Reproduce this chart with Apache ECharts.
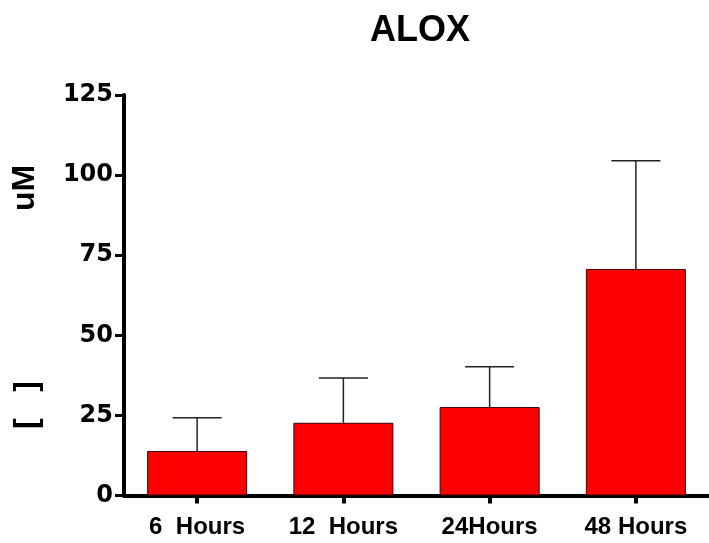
<!DOCTYPE html>
<html>
<head>
<meta charset="utf-8">
<script src="https://cdn.jsdelivr.net/npm/echarts@6/dist/echarts.min.js"></script>
<style>
  html, body { margin: 0; padding: 0; background: #ffffff; }
  #chart { width: 709px; height: 543px; }
</style>
</head>
<body>
<div id="chart"></div>
<script>
// ALOX concentration over time: mean with upper error bar
const categories = ['6  Hours', '12  Hours', '24Hours', '48 Hours'];
const means = [13.9, 22.7, 27.6, 70.7];
const errors = [10.4, 14.0, 12.6, 33.8];
const yTicks = [0, 25, 50, 75, 100, 125];

const chart = echarts.init(document.getElementById('chart'));

const errorData = categories.map((c, i) => [i, means[i], means[i] + errors[i]]);

chart.setOption({
  backgroundColor: '#ffffff',
  animation: false,
  title: {
    text: 'ALOX',
    left: 415,
    top: 8,
    textAlign: 'center',
    textStyle: {
      fontFamily: 'Liberation Sans',
      fontWeight: 'bold',
      fontSize: 36,
      color: '#000'
    }
  },
  grid: {
    left: 124,
    top: 95,
    width: 592,
    height: 400.5,
    containLabel: false
  },
  xAxis: {
    type: 'category',
    data: categories,
    axisLine: { lineStyle: { color: '#000', width: 4 } },
    axisTick: { show: true, alignWithLabel: true, length: 8, lineStyle: { color: '#000', width: 4 } },
    axisLabel: {
      margin: 20,
      color: '#000',
      fontFamily: 'Liberation Sans',
      fontWeight: 'bold',
      fontSize: 24,
      interval: 0
    }
  },
  yAxis: {
    type: 'value',
    min: yTicks[0],
    max: yTicks[yTicks.length - 1],
    interval: 25,
    splitLine: { show: false },
    axisLine: { show: true, lineStyle: { color: '#000', width: 4 } },
    axisTick: { show: true, length: 9, lineStyle: { color: '#000', width: 3 } },
    axisLabel: {
      margin: 11,
      color: '#000',
      fontFamily: 'DejaVu Sans',
      fontWeight: 'bold',
      fontSize: 24
    }
  },
  graphic: [
    {
      type: 'text',
      x: 25,
      y: 188,
      rotation: Math.PI / 2,
      style: {
        text: 'uM',
        fill: '#000',
        font: 'bold 32px "Liberation Sans"',
        textAlign: 'center',
        textVerticalAlign: 'middle'
      }
    },
    {
      type: 'text',
      x: 27,
      y: 405,
      rotation: Math.PI / 2,
      style: {
        text: '[   ]',
        fill: '#000',
        font: 'bold 32px "Liberation Sans"',
        textAlign: 'center',
        textVerticalAlign: 'middle'
      }
    }
  ],
  series: [
    {
      type: 'bar',
      data: means,
      barWidth: 100,
      itemStyle: { color: '#ff0000', borderColor: '#3a0000', borderWidth: 1 },
      z: 2
    },
    {
      type: 'custom',
      data: errorData,
      z: 3,
      renderItem: function (params, api) {
        const idx = api.value(0);
        const base = api.coord([idx, api.value(1)]);
        const top = api.coord([idx, api.value(2)]);
        const half = 24.5;
        const style = { stroke: '#222', lineWidth: 1.5 };
        return {
          type: 'group',
          children: [
            { type: 'line', shape: { x1: base[0], y1: base[1], x2: top[0], y2: top[1] }, style: style },
            { type: 'line', shape: { x1: top[0] - half, y1: top[1], x2: top[0] + half, y2: top[1] }, style: style }
          ]
        };
      }
    }
  ]
});
</script>
</body>
</html>
